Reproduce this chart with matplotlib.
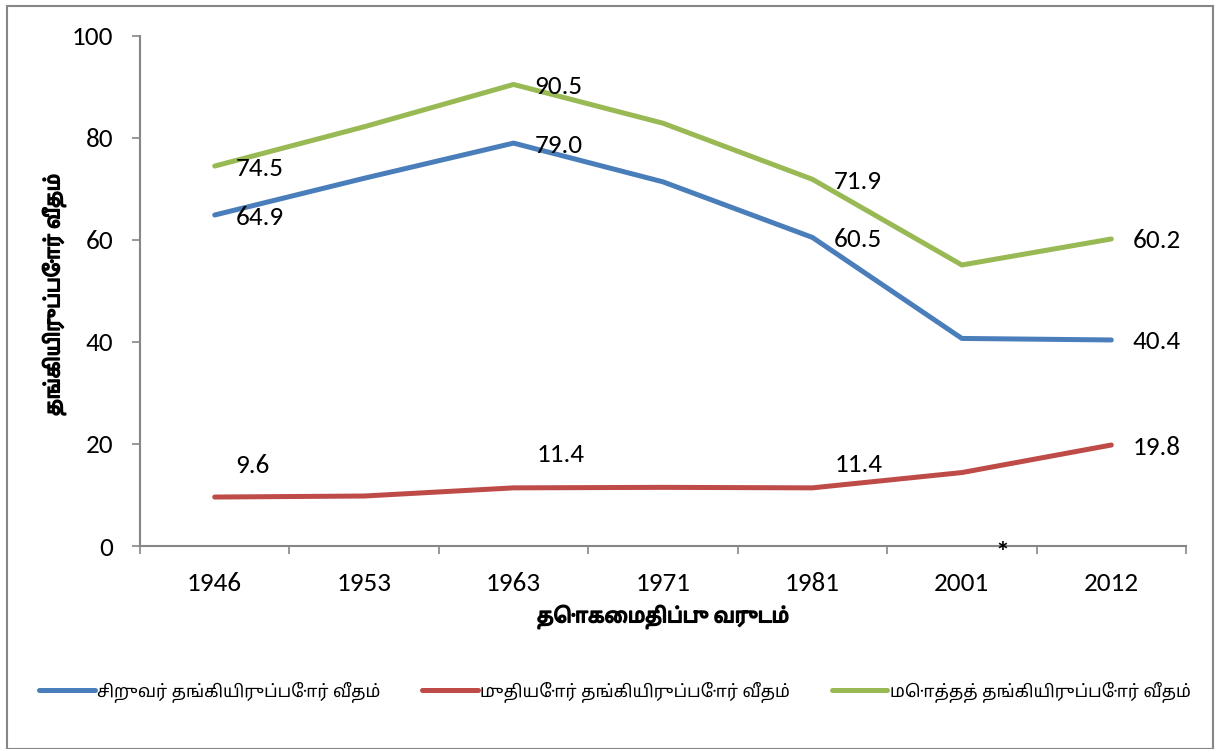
import matplotlib
matplotlib.use("Agg")
import matplotlib.pyplot as plt
import matplotlib.patheffects as pe
from matplotlib import font_manager as fm
from matplotlib.patches import Rectangle

# census years and rates
years = ["1946", "1953", "1963", "1971", "1981", "2001", "2012"]
children = [64.9, 72.1, 79.0, 71.4, 60.5, 40.7, 40.4]
elderly = [9.6, 9.8, 11.4, 11.5, 11.4, 14.4, 19.8]
total = [74.5, 82.2, 90.5, 82.9, 71.9, 55.1, 60.2]

series_names = ["சிறுவர் தங்கியிருப்போர் வீதம்",
                "முதியோர் தங்கியிருப்போர் வீதம்",
                "மொத்தத் தங்கியிருப்போர் வீதம்"]
x_title = "தொகைமதிப்பு வருடம்"
y_title = "தங்கியிருப்போர் வீதம்"
y_ticks = [0, 20, 40, 60, 80, 100]

# which points carry a value label
labelled = [0, 2, 4, 6]

available = set(f.name for f in fm.fontManager.ttflist)
tamil = [f for f in ["Noto Sans Tamil", "Noto Sans Tamil UI", "Anek Tamil",
                     "Catamaran", "Hind Madurai", "Mukta Malar"] if f in available]
latin = [f for f in ["Carlito", "Open Sans"] if f in available]
fam = latin + tamil + ["DejaVu Sans"]
tfam = tamil + latin + ["DejaVu Sans"]
plt.rcParams["font.family"] = fam

fig = plt.figure(figsize=(12.16, 7.49), dpi=100)
ax = fig.add_axes([140 / 1216, 1 - 546 / 749, (1186 - 140) / 1216, (546 - 36) / 749])

colors = ["#4A7EBB", "#BE4B48", "#98B954"]
xs = list(range(len(years)))
lines = []
for vals, c, name in zip([children, elderly, total], colors, series_names):
    ln, = ax.plot(xs, vals, color=c, lw=3.6, solid_joinstyle="round",
                  solid_capstyle="round", label=name)
    lines.append(ln)

# label offsets in pixels (dx, dy) for each series
offsets = [
    [(21, -2)] * 4,
    [(21, 32), (23, 33), (22, 23), (21, -2)],
    [(21, -2)] * 4,
]
for vals, offs in zip([children, elderly, total], offsets):
    for i, off in zip(labelled, offs):
        ax.annotate("%.1f" % vals[i], (xs[i], vals[i]), xytext=off,
                    textcoords="offset pixels", ha="left", va="center",
                    fontsize=19.5, color="black")

ax.set_xlim(-0.5, len(years) - 0.5)
ax.set_ylim(0, 100)
ax.set_yticks(y_ticks)
ax.set_xticks(xs)
ax.set_xticklabels(years)
ax.set_xticks([i - 0.5 for i in range(len(years) + 1)], minor=True)
ax.tick_params(axis="x", which="major", length=0, pad=19, labelsize=19.5)
ax.tick_params(axis="x", which="minor", length=6, width=1.2, color="#868686", direction="out")
ax.tick_params(axis="y", length=6, width=1.2, color="#868686", pad=13, labelsize=19.5)

for s in ["top", "right"]:
    ax.spines[s].set_visible(False)
for s in ["left", "bottom"]:
    ax.spines[s].set_color("#868686")
    ax.spines[s].set_linewidth(1.5)

ax.text(5.27, -1.3, "*", ha="center", va="center", fontsize=20, fontweight="bold")

# the tamil face has no bold here, so thicken the titles with a stroke
bold = [pe.withStroke(linewidth=1.1, foreground="black")]
fig.text(663 / 1216, 1 - 617 / 749, x_title, ha="center", va="center",
         fontsize=14.5, fontweight="bold", family=tfam, path_effects=bold)
fig.text(54 / 1216, 1 - 295 / 749, y_title, ha="center", va="center",
         rotation=90, fontsize=14.5, fontweight="bold", family=tfam, path_effects=bold)

leg = fig.legend(handles=lines, loc="center", bbox_to_anchor=(615 / 1216, 1 - 692 / 749),
                 ncol=3, frameon=False, handlelength=3.2, handletextpad=0.15,
                 columnspacing=2.4, prop={"family": tfam, "size": 12.5})

fig.patches.append(Rectangle((7 / 1216, 0.0), (1213 - 7) / 1216, 1 - 6 / 749,
                             transform=fig.transFigure, fill=False,
                             edgecolor="#868686", lw=1.5))

fig.savefig("out.png", dpi=100)
